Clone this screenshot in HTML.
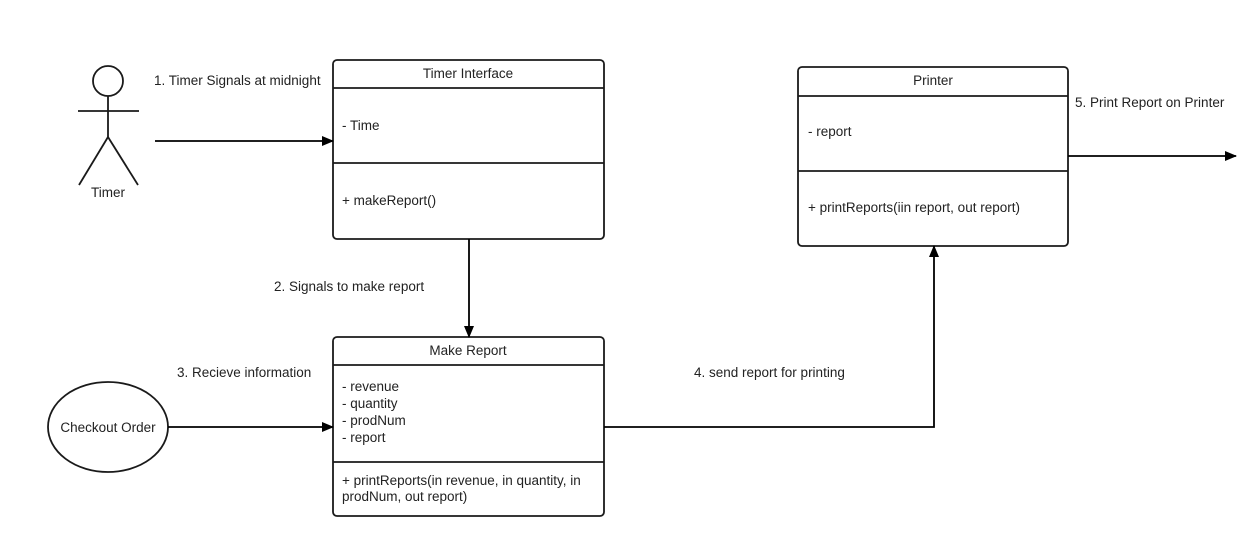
<!DOCTYPE html>
<html><head><meta charset="utf-8"><style>
html,body{margin:0;padding:0;background:#fff;}
svg text{font-family:"Liberation Sans",Arial,sans-serif;font-size:13.5px;fill:#222;}
</style></head><body>
<svg width="1249" height="534" viewBox="0 0 1249 534" xmlns="http://www.w3.org/2000/svg">
<defs><marker id="a" markerWidth="12" markerHeight="10" refX="11" refY="5" orient="auto" markerUnits="userSpaceOnUse"><path d="M0,0 L12,5 L0,10 z" fill="#000"/></marker></defs>
<g stroke="#1a1a1a" stroke-width="1.8" fill="none">
<circle cx="108" cy="81" r="15"/>
<line x1="108" y1="96" x2="108" y2="137"/>
<line x1="78" y1="111" x2="139" y2="111"/>
<line x1="108" y1="137" x2="79" y2="185"/>
<line x1="108" y1="137" x2="138" y2="185"/>
<ellipse cx="108" cy="427" rx="60" ry="45"/>
<rect x="333" y="60" width="271" height="179" rx="4"/>
<line x1="333" y1="88" x2="604" y2="88"/><line x1="333" y1="163" x2="604" y2="163"/>
<rect x="333" y="337" width="271" height="179" rx="4"/>
<line x1="333" y1="365" x2="604" y2="365"/><line x1="333" y1="462" x2="604" y2="462"/>
<rect x="798" y="67" width="270" height="179" rx="4"/>
<line x1="798" y1="96" x2="1068" y2="96"/><line x1="798" y1="171" x2="1068" y2="171"/>
</g>
<g stroke="#000" stroke-width="1.8" fill="none">
<line x1="155" y1="141" x2="333" y2="141" marker-end="url(#a)"/>
<line x1="469" y1="239" x2="469" y2="337" marker-end="url(#a)"/>
<line x1="168" y1="427" x2="333" y2="427" marker-end="url(#a)"/>
<polyline points="604,427 934,427 934,246" marker-end="url(#a)"/>
<line x1="1068" y1="156" x2="1236" y2="156" marker-end="url(#a)"/>
</g>
<text x="108" y="197" text-anchor="middle">Timer</text>
<text x="108" y="432" text-anchor="middle">Checkout Order</text>
<text x="468" y="78" text-anchor="middle">Timer Interface</text>
<text x="342" y="130">- Time</text>
<text x="342" y="205">+ makeReport()</text>
<text x="468" y="355" text-anchor="middle">Make Report</text>
<text x="342" y="391">- revenue</text>
<text x="342" y="408">- quantity</text>
<text x="342" y="425">- prodNum</text>
<text x="342" y="442">- report</text>
<text x="342" y="485">+ printReports(in revenue, in quantity, in</text>
<text x="342" y="501">prodNum, out report)</text>
<text x="933" y="85" text-anchor="middle">Printer</text>
<text x="808" y="136">- report</text>
<text x="808" y="212">+ printReports(iin report, out report)</text>
<text x="154" y="85">1. Timer Signals at midnight</text>
<text x="274" y="291">2. Signals to make report</text>
<text x="177" y="377">3. Recieve information</text>
<text x="694" y="377">4. send report for printing</text>
<text x="1075" y="107">5. Print Report on Printer</text>
</svg>
</body></html>
